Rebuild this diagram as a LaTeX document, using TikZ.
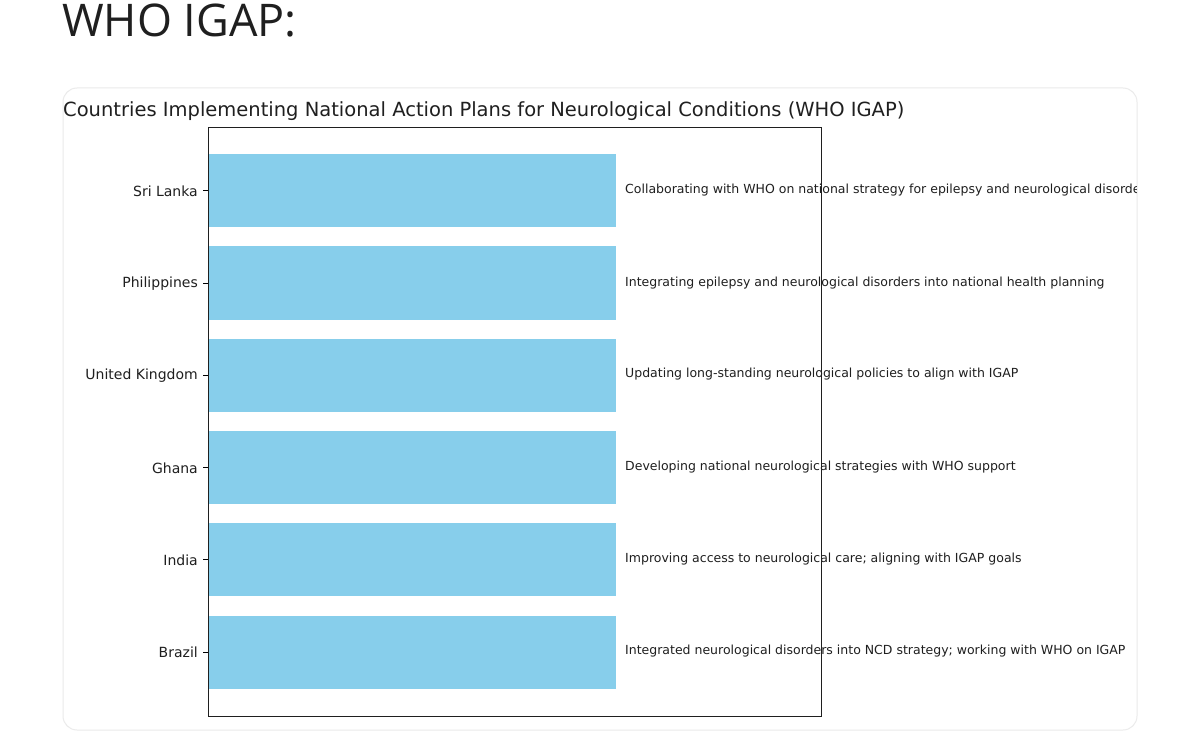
\documentclass[tikz,border=0pt]{standalone}
\usepackage{fontspec}
\setmainfont{DejaVu Sans}
\newfontfamily\headfont{Open Sans}
\definecolor{skyb}{HTML}{87CEEB}
\definecolor{txt}{HTML}{1F1F1F}
\begin{document}
\begin{tikzpicture}[x=1pt,y=-1pt,
  bar/.style={fill=skyb,draw=none},
  lab/.style={anchor=east,inner sep=0pt,font=\fontsize{14}{16}\selectfont,text=txt},
  ann/.style={anchor=west,inner sep=0pt,font=\fontsize{12.5}{14}\selectfont,text=txt}]
\useasboundingbox (0,0) rectangle (1200,746);
\fill[white] (0,0) rectangle (1200,746);
\node[anchor=west,inner sep=0pt,font=\headfont\fontsize{45}{50}\selectfont,text=txt] (h) at (62,21) {WHO IGAP:};
\draw[rounded corners=14pt,draw=black!8,line width=1pt] (63,88) rectangle (1137,730);
\node[anchor=west,inner sep=0pt,font=\fontsize{19.5}{22}\selectfont,text=txt] (t) at (63,111) {Countries Implementing National Action Plans for Neurological Conditions (WHO IGAP)};
\foreach \n/\c/\s in {sl/Sri Lanka/{Collaborating with WHO on national strategy for epilepsy and neurological disorders},
  ph/Philippines/{Integrating epilepsy and neurological disorders into national health planning},
  uk/United Kingdom/{Updating long-standing neurological policies to align with IGAP},
  gh/Ghana/{Developing national neurological strategies with WHO support},
  in/India/{Improving access to neurological care; aligning with IGAP goals},
  br/Brazil/{Integrated neurological disorders into NCD strategy; working with WHO on IGAP}}{}
\foreach \n/\y in {sl/190.5,ph/283,uk/375,gh/467.5,in/559.5,br/652}{
  \fill[skyb] (208,\y-36.5) rectangle (616,\y+36.5);
  \draw[line width=0.8pt] (203,\y) -- (208,\y);
}
\node[lab] (l1) at (198,191) {Sri Lanka};
\node[lab] (l2) at (198,284) {Philippines};
\node[lab] (l3) at (198,376) {United Kingdom};
\node[lab] (l4) at (198,468) {Ghana};
\node[lab] (l5) at (198,560) {India};
\node[lab] (l6) at (198,652) {Brazil};
\begin{scope}
\clip (600,120) rectangle (1136,700);
\node[ann] (a1) at (625,190) {Collaborating with WHO on national strategy for epilepsy and neurological disorders};
\node[ann] (a2) at (625,283) {Integrating epilepsy and neurological disorders into national health planning};
\node[ann] (a3) at (625,374) {Updating long-standing neurological policies to align with IGAP};
\node[ann] (a4) at (625,467) {Developing national neurological strategies with WHO support};
\node[ann] (a5) at (625,559) {Improving access to neurological care; aligning with IGAP goals};
\node[ann] (a6) at (625,651) {Integrated neurological disorders into NCD strategy; working with WHO on IGAP};
\end{scope}
\draw[line width=0.9pt,draw=txt] (208,127) rectangle (821,716);
\end{tikzpicture}
\end{document}
